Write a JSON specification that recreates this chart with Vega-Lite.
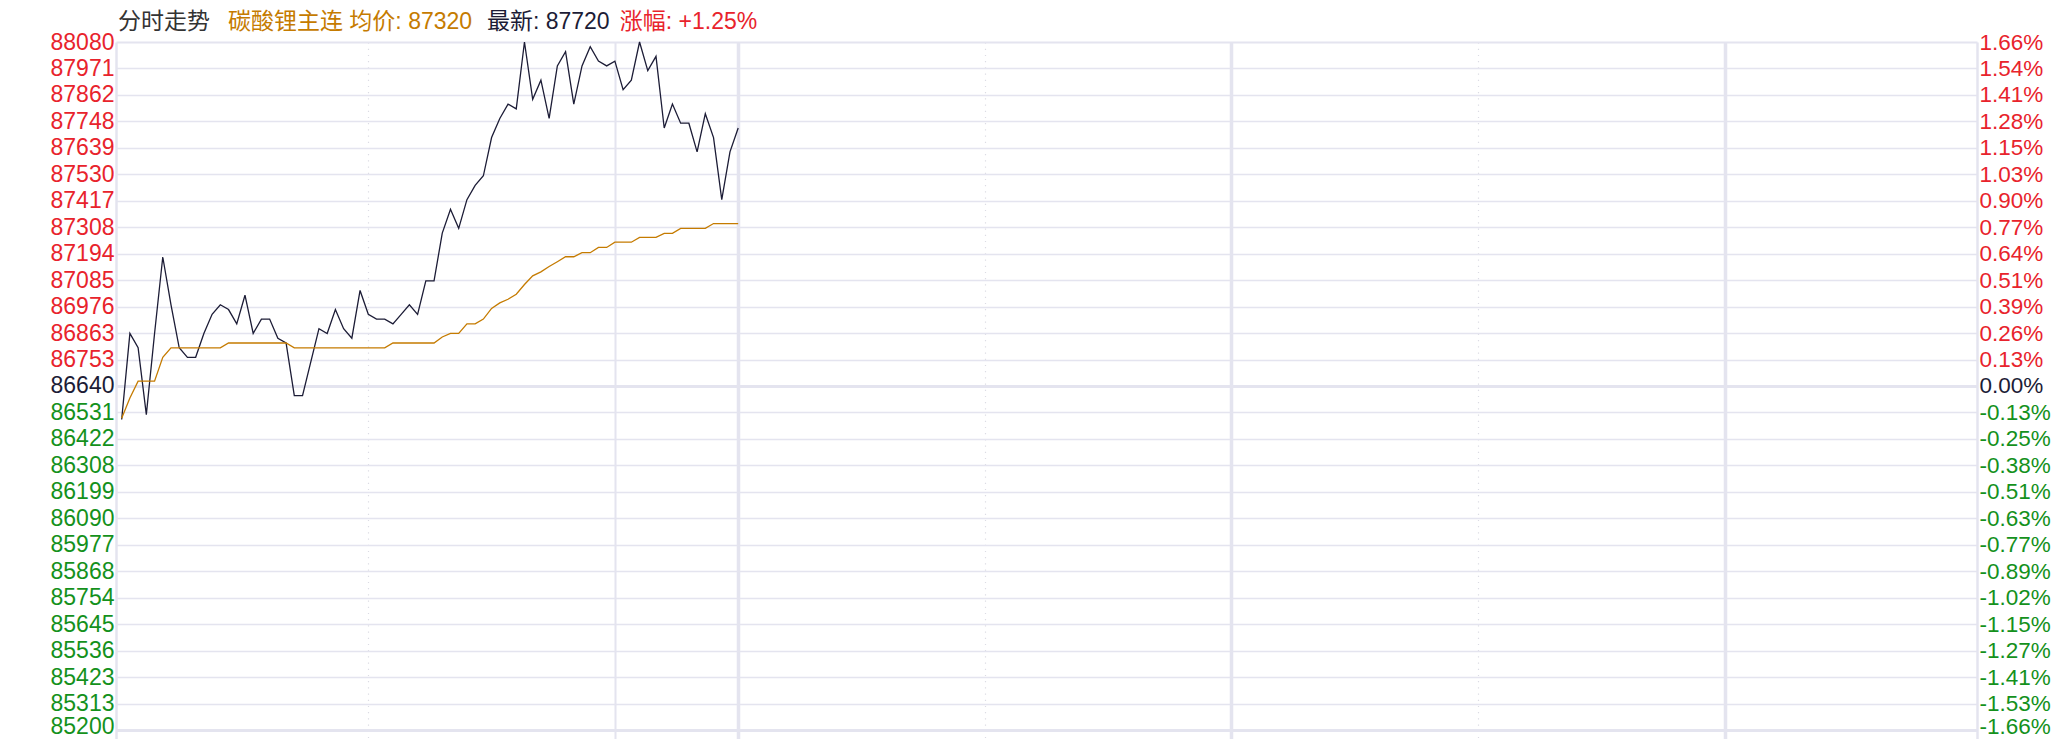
{
  "$schema": "https://vega.github.io/schema/vega-lite/v6.json",
  "width": 1861,
  "height": 697,
  "autosize": {"type": "none"},
  "padding": {"left": 116, "top": 42, "right": 92, "bottom": 0},
  "background": "#ffffff",
  "config": {"view": {"stroke": null}, "font": "Liberation Sans"},
  "resolve": {"scale": {"y": "shared", "x": "shared"}, "axis": {"y": "independent", "x": "independent"}},
  "layer": [
    {
      "data": {"values": [
        {"m": 0, "price": 86500, "avg": 86505},
        {"m": 1, "price": 86860, "avg": 86590},
        {"m": 2, "price": 86800, "avg": 86660},
        {"m": 3, "price": 86520, "avg": 86660},
        {"m": 4, "price": 86860, "avg": 86660},
        {"m": 5, "price": 87180, "avg": 86760},
        {"m": 6, "price": 86980, "avg": 86800},
        {"m": 7, "price": 86800, "avg": 86800},
        {"m": 8, "price": 86760, "avg": 86800},
        {"m": 9, "price": 86760, "avg": 86800},
        {"m": 10, "price": 86860, "avg": 86800},
        {"m": 11, "price": 86940, "avg": 86800},
        {"m": 12, "price": 86980, "avg": 86800},
        {"m": 13, "price": 86960, "avg": 86820},
        {"m": 14, "price": 86900, "avg": 86820},
        {"m": 15, "price": 87020, "avg": 86820},
        {"m": 16, "price": 86860, "avg": 86820},
        {"m": 17, "price": 86920, "avg": 86820},
        {"m": 18, "price": 86920, "avg": 86820},
        {"m": 19, "price": 86840, "avg": 86820},
        {"m": 20, "price": 86820, "avg": 86820},
        {"m": 21, "price": 86600, "avg": 86800},
        {"m": 22, "price": 86600, "avg": 86800},
        {"m": 23, "price": 86740, "avg": 86800},
        {"m": 24, "price": 86880, "avg": 86800},
        {"m": 25, "price": 86860, "avg": 86800},
        {"m": 26, "price": 86960, "avg": 86800},
        {"m": 27, "price": 86880, "avg": 86800},
        {"m": 28, "price": 86840, "avg": 86800},
        {"m": 29, "price": 87040, "avg": 86800},
        {"m": 30, "price": 86940, "avg": 86800},
        {"m": 31, "price": 86920, "avg": 86800},
        {"m": 32, "price": 86920, "avg": 86800},
        {"m": 33, "price": 86900, "avg": 86820},
        {"m": 34, "price": 86940, "avg": 86820},
        {"m": 35, "price": 86980, "avg": 86820},
        {"m": 36, "price": 86940, "avg": 86820},
        {"m": 37, "price": 87080, "avg": 86820},
        {"m": 38, "price": 87080, "avg": 86820},
        {"m": 39, "price": 87280, "avg": 86845},
        {"m": 40, "price": 87380, "avg": 86860},
        {"m": 41, "price": 87300, "avg": 86860},
        {"m": 42, "price": 87420, "avg": 86900},
        {"m": 43, "price": 87480, "avg": 86900},
        {"m": 44, "price": 87520, "avg": 86920},
        {"m": 45, "price": 87680, "avg": 86965},
        {"m": 46, "price": 87760, "avg": 86988},
        {"m": 47, "price": 87820, "avg": 87003},
        {"m": 48, "price": 87800, "avg": 87024},
        {"m": 49, "price": 88080, "avg": 87065},
        {"m": 50, "price": 87840, "avg": 87101},
        {"m": 51, "price": 87920, "avg": 87118},
        {"m": 52, "price": 87760, "avg": 87140},
        {"m": 53, "price": 87980, "avg": 87160},
        {"m": 54, "price": 88040, "avg": 87181},
        {"m": 55, "price": 87820, "avg": 87181},
        {"m": 56, "price": 87980, "avg": 87198},
        {"m": 57, "price": 88060, "avg": 87198},
        {"m": 58, "price": 88000, "avg": 87220},
        {"m": 59, "price": 87980, "avg": 87220},
        {"m": 60, "price": 88000, "avg": 87242},
        {"m": 61, "price": 87880, "avg": 87242},
        {"m": 62, "price": 87920, "avg": 87242},
        {"m": 63, "price": 88080, "avg": 87262},
        {"m": 64, "price": 87960, "avg": 87262},
        {"m": 65, "price": 88020, "avg": 87262},
        {"m": 66, "price": 87720, "avg": 87279},
        {"m": 67, "price": 87820, "avg": 87279},
        {"m": 68, "price": 87740, "avg": 87300},
        {"m": 69, "price": 87740, "avg": 87300},
        {"m": 70, "price": 87620, "avg": 87300},
        {"m": 71, "price": 87780, "avg": 87300},
        {"m": 72, "price": 87680, "avg": 87320},
        {"m": 73, "price": 87420, "avg": 87320},
        {"m": 74, "price": 87620, "avg": 87320},
        {"m": 75, "price": 87720, "avg": 87320}
      ]},
      "resolve": {"axis": {"y": "independent", "x": "independent"}},
      "layer": [
        {
          "mark": {"type": "line", "color": "#1c1c36", "strokeWidth": 1.3},
          "encoding": {
            "x": {
              "field": "m", "type": "quantitative",
              "scale": {"domain": [-0.69, 225.7], "nice": false, "zero": false},
              "axis": {
                "title": null, "labels": false, "ticks": false, "domain": false,
                "grid": true, "values": [30, 60, 75, 105, 135, 165, 195],
                "gridColor": {"condition": {"test": "datum.value == 30 || datum.value == 105 || datum.value == 165", "value": "#dcdce4"}, "value": "#e4e4ef"},
                "gridDash": {"condition": {"test": "datum.value == 30 || datum.value == 105 || datum.value == 165", "value": [1.2, 5]}, "value": []},
                "gridWidth": {"condition": [{"test": "datum.value == 75 || datum.value == 135 || datum.value == 195", "value": 3.5}, {"test": "datum.value == 60", "value": 2}], "value": 1.2}
              }
            },
            "y": {
              "field": "price", "type": "quantitative",
              "scale": {"domain": [85162.3, 88080], "nice": false, "zero": false},
              "axis": {
                "orient": "left", "title": null, "ticks": false,
                "domain": true, "domainColor": "#e4e4ef", "domainWidth": 2.5,
                "grid": true, "gridColor": "#e4e4ef",
                "gridWidth": {"condition": [{"test": "datum.value == 86640 || datum.value == 85200", "value": 3}, {"test": "datum.value == 88080", "value": 2.2}], "value": 1.3},
                "values": [85200, 85310.76923, 85421.53846, 85532.30769, 85643.07692, 85753.84615, 85864.61538, 85975.38462, 86086.15385, 86196.92308, 86307.69231, 86418.46154, 86529.23077, 86640, 86750.76923, 86861.53846, 86972.30769, 87083.07692, 87193.84615, 87304.61538, 87415.38462, 87526.15385, 87636.92308, 87747.69231, 87858.46154, 87969.23077, 88080],
                "labelExpr": "['85200','85313','85423','85536','85645','85754','85868','85977','86090','86199','86308','86422','86531','86640','86753','86863','86976','87085','87194','87308','87417','87530','87639','87748','87862','87971','88080'][round((datum.value-85200)/110.76923)]",
                "labelFont": "Liberation Sans", "labelFontSize": 23,
                "labelPadding": 2, "labelFlush": false, "labelOverlap": false, "labelBound": false,
                "labelOffset": {"condition": {"test": "datum.value == 85200", "value": -3}, "value": 0},
                "labelColor": {"condition": [{"test": "datum.value > 86700", "value": "#e8232c"}, {"test": "datum.value < 86600", "value": "#14911c"}], "value": "#1c1c36"}
              }
            }
          }
        },
        {
          "mark": {"type": "line", "color": "#c57b00", "strokeWidth": 1.3},
          "encoding": {
            "x": {"field": "m", "type": "quantitative", "axis": null},
            "y": {
              "field": "avg", "type": "quantitative",
              "axis": {
                "orient": "right", "title": null, "ticks": false, "grid": false,
                "domain": true, "domainColor": "#e4e4ef", "domainWidth": 2.5,
                "values": [85200, 85310.76923, 85421.53846, 85532.30769, 85643.07692, 85753.84615, 85864.61538, 85975.38462, 86086.15385, 86196.92308, 86307.69231, 86418.46154, 86529.23077, 86640, 86750.76923, 86861.53846, 86972.30769, 87083.07692, 87193.84615, 87304.61538, 87415.38462, 87526.15385, 87636.92308, 87747.69231, 87858.46154, 87969.23077, 88080],
                "labelExpr": "['-1.66%','-1.53%','-1.41%','-1.27%','-1.15%','-1.02%','-0.89%','-0.77%','-0.63%','-0.51%','-0.38%','-0.25%','-0.13%','0.00%','0.13%','0.26%','0.39%','0.51%','0.64%','0.77%','0.90%','1.03%','1.15%','1.28%','1.41%','1.54%','1.66%'][round((datum.value-85200)/110.76923)]",
                "labelFont": "Liberation Sans", "labelFontSize": 22.5,
                "labelPadding": 2, "labelFlush": false, "labelOverlap": false, "labelBound": false,
                "labelOffset": {"condition": {"test": "datum.value == 85200", "value": -3}, "value": 0},
                "labelColor": {"condition": [{"test": "datum.value > 86700", "value": "#e8232c"}, {"test": "datum.value < 86600", "value": "#14911c"}], "value": "#1c1c36"}
              }
            }
          }
        }
      ]
    },
    {
      "data": {"values": [{"label": "分时走势"}]},
      "mark": {"type": "text", "align": "left", "baseline": "middle", "dy": -20, "font": "Liberation Sans, Noto Sans CJK SC", "fontWeight": "normal", "fontSize": 23, "fill": "#333333"},
      "encoding": {
        "text": {"field": "label"},
        "x": {"datum": -0.45, "type": "quantitative", "axis": null},
        "y": {"datum": 88080, "type": "quantitative", "axis": null}
      }
    },
    {
      "data": {"values": [{"label": "碳酸锂主连 均价: 87320"}]},
      "mark": {"type": "text", "align": "left", "baseline": "middle", "dy": -20, "font": "Liberation Sans, Noto Sans CJK SC", "fontWeight": "normal", "fontSize": 23, "fill": "#c57b00"},
      "encoding": {
        "text": {"field": "label"},
        "x": {"datum": 12.93, "type": "quantitative", "axis": null},
        "y": {"datum": 88080, "type": "quantitative", "axis": null}
      }
    },
    {
      "data": {"values": [{"label": "最新: 87720"}]},
      "mark": {"type": "text", "align": "left", "baseline": "middle", "dy": -20, "font": "Liberation Sans, Noto Sans CJK SC", "fontWeight": "normal", "fontSize": 23, "fill": "#1c1c36"},
      "encoding": {
        "text": {"field": "label"},
        "x": {"datum": 44.43, "type": "quantitative", "axis": null},
        "y": {"datum": 88080, "type": "quantitative", "axis": null}
      }
    },
    {
      "data": {"values": [{"label": "涨幅: +1.25%"}]},
      "mark": {"type": "text", "align": "left", "baseline": "middle", "dy": -20, "font": "Liberation Sans, Noto Sans CJK SC", "fontWeight": "normal", "fontSize": 23, "fill": "#e8232c"},
      "encoding": {
        "text": {"field": "label"},
        "x": {"datum": 60.6, "type": "quantitative", "axis": null},
        "y": {"datum": 88080, "type": "quantitative", "axis": null}
      }
    }
  ]
}
